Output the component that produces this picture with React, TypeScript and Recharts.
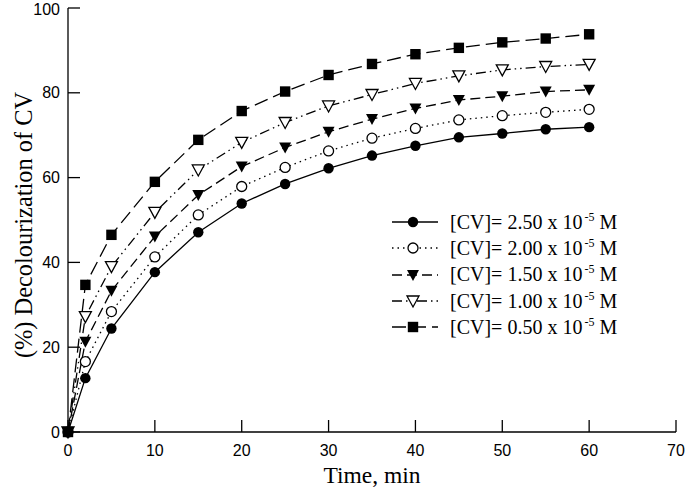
import { Legend, Line, LineChart, XAxis, YAxis } from "recharts"

// values
const times = [0, 2, 5, 10, 15, 20, 25, 30, 35, 40, 45, 50, 55, 60]
const cv250 = [0, 12.7, 24.4, 37.7, 47.1, 53.9, 58.5, 62.2, 65.2, 67.5, 69.5, 70.4, 71.4, 71.9]
const cv200 = [0, 16.6, 28.4, 41.3, 51.2, 57.9, 62.4, 66.3, 69.3, 71.6, 73.6, 74.6, 75.4, 76.1]
const cv150 = [0, 21.3, 33.3, 46.1, 55.9, 62.6, 67.1, 70.8, 73.8, 76.3, 78.3, 79.2, 80.3, 80.7]
const cv100 = [0, 27.2, 39.0, 51.8, 61.8, 68.3, 73.0, 76.9, 79.6, 82.2, 84.0, 85.4, 86.2, 86.7]
const cv050 = [0, 34.7, 46.5, 59.0, 68.9, 75.7, 80.3, 84.2, 86.8, 89.1, 90.6, 91.9, 92.8, 93.8]
const xTicks = [0, 10, 20, 30, 40, 50, 60, 70]
const yTicks = [0, 20, 40, 60, 80, 100]

const data = times.map((t, i) => ({
  time: t,
  cv250: cv250[i],
  cv200: cv200[i],
  cv150: cv150[i],
  cv100: cv100[i],
  cv050: cv050[i],
}))

const SERIF = "'Liberation Serif', 'Times New Roman', serif"
const SANS = "'Liberation Sans', Arial, sans-serif"
const AXIS = { stroke: "#000", strokeWidth: 1.3 }
const TICK_TEXT = { fontFamily: SANS, fontSize: 16, fill: "#000" }

type MarkerKind = "dot" | "circle" | "tri" | "openTri" | "square"

function Marker({ kind, cx, cy }: { kind: MarkerKind; cx: number; cy: number }) {
  if (kind === "dot") return <circle cx={cx} cy={cy} r={5.2} fill="#000" />
  if (kind === "circle") return <circle cx={cx} cy={cy} r={5} fill="#fff" stroke="#000" strokeWidth={1.3} />
  if (kind === "square") return <rect x={cx - 5.2} y={cy - 5.2} width={10.4} height={10.4} fill="#000" />
  const d = `M${cx - 6},${cy - 5} L${cx + 6},${cy - 5} L${cx},${cy + 6} Z`
  if (kind === "tri") return <path d={d} fill="#000" />
  return <path d={d} fill="#fff" stroke="#000" strokeWidth={1.3} strokeLinejoin="miter" />
}

const series: { key: string; label: string; dash?: string; marker: MarkerKind }[] = [
  { key: "cv250", label: "2.50", marker: "dot" },
  { key: "cv200", label: "2.00", dash: "1.5 4", marker: "circle" },
  { key: "cv150", label: "1.50", dash: "10 5", marker: "tri" },
  { key: "cv100", label: "1.00", dash: "10 4 1.5 4 1.5 4", marker: "openTri" },
  { key: "cv050", label: "0.50", dash: "14 6", marker: "square" },
]

const YTitle = ({ viewBox }: any) => {
  const cx = viewBox.x + 32
  const cy = viewBox.y + viewBox.height / 2 + 5
  return (
    <text
      x={cx}
      y={cy}
      transform={`rotate(-90 ${cx} ${cy})`}
      textAnchor="middle"
      fontFamily={SERIF}
      fontSize={24.4}
      fill="#000"
    >
      (%) Decolourization of CV
    </text>
  )
}

const XTitle = ({ viewBox }: any) => (
  <text
    x={viewBox.x + viewBox.width / 2}
    y={viewBox.y + 51}
    textAnchor="middle"
    fontFamily={SERIF}
    fontSize={23.5}
    fill="#000"
  >
    Time, min
  </text>
)

const LegendBox = () => (
  <div style={{ fontFamily: SERIF, fontSize: 20, color: "#000" }}>
    {series.map((s) => (
      <div key={s.key} style={{ display: "flex", alignItems: "center", height: 26.3 }}>
        <svg width={46} height={16}>
          <line x1={0} y1={8} x2={46} y2={8} stroke="#000" strokeWidth={1.3} strokeDasharray={s.dash} />
          <Marker kind={s.marker} cx={21} cy={8} />
        </svg>
        <span style={{ marginLeft: 12, whiteSpace: "nowrap" }}>
          [CV]= {s.label} x 10
          <span style={{ fontSize: 12, verticalAlign: "top", position: "relative", top: -1, marginLeft: 2 }}>-5</span>{" "}
          M
        </span>
      </div>
    ))}
  </div>
)

export default function App() {
  return (
    <div style={{ position: "absolute", left: 0, top: 0, background: "#fff" }}>
      <LineChart width={685} height={489} data={data} margin={{ top: 8, right: 9, bottom: 0, left: 0 }}>
        {/* negative tickSize turns the tick marks inward */}
        <XAxis
          dataKey="time"
          type="number"
          domain={[0, 70]}
          ticks={xTicks}
          height={57}
          tickSize={-12}
          tickMargin={25}
          tickLine={AXIS}
          tick={TICK_TEXT}
          axisLine={AXIS}
          label={<XTitle />}
        />
        <XAxis
          xAxisId="top"
          orientation="top"
          type="number"
          domain={[0, 70]}
          height={0}
          tick={false}
          tickLine={false}
          axisLine={AXIS}
        />
        <YAxis
          type="number"
          domain={[0, 100]}
          ticks={yTicks}
          width={68}
          tickSize={-12}
          tickMargin={20}
          tickLine={AXIS}
          tick={TICK_TEXT}
          axisLine={AXIS}
          label={<YTitle />}
        />
        <YAxis
          yAxisId="right"
          orientation="right"
          type="number"
          domain={[0, 100]}
          width={0}
          tick={false}
          tickLine={false}
          axisLine={AXIS}
        />
        <Legend
          layout="vertical"
          align="center"
          verticalAlign="middle"
          wrapperStyle={{ left: 392, top: 209, width: "auto" }}
          content={<LegendBox />}
        />
        {series.map((s) => (
          <Line
            key={s.key}
            dataKey={s.key}
            type="linear"
            stroke="#000"
            strokeWidth={1.3}
            strokeDasharray={s.dash}
            isAnimationActive={false}
            dot={(p: any) => <Marker key={`${s.key}-${p.index}`} kind={s.marker} cx={p.cx} cy={p.cy} />}
            activeDot={false}
          />
        ))}
      </LineChart>
    </div>
  )
}
